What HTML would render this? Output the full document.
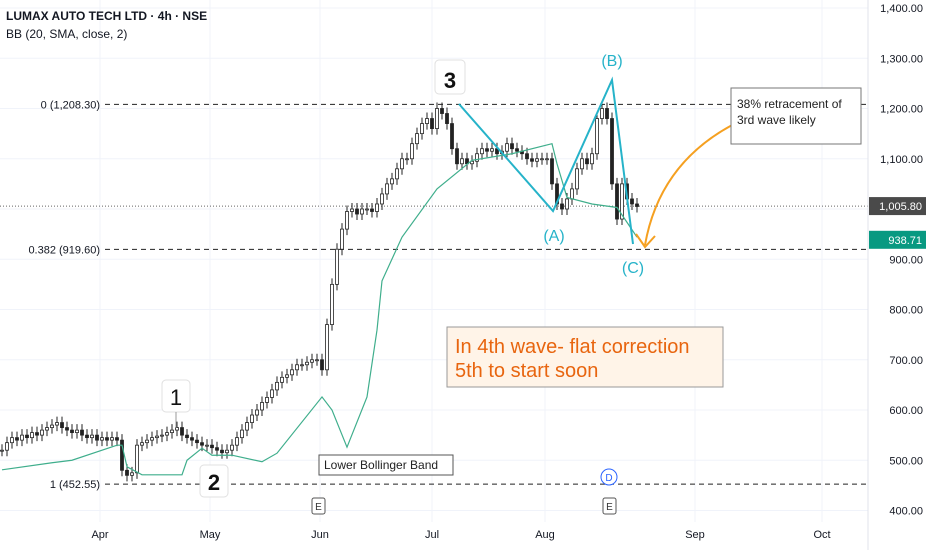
<!DOCTYPE html>
<html><head><meta charset="utf-8"><style>
body{margin:0;background:#fff;font-family:"Liberation Sans",sans-serif}
svg text{font-family:"Liberation Sans",sans-serif}
</style></head><body>
<svg id="c" width="932" height="550" viewBox="0 0 932 550" xmlns="http://www.w3.org/2000/svg">
<g id="grid"></g>
<g id="candles"></g>
<path id="bb" fill="none" stroke="#3fae8c" stroke-width="1.2"/>
<g id="axis"></g>
<g id="xaxis"></g>
<g>
 <polyline points="459,104 553,211 612,80 633,244" fill="none" stroke="#26b3c9" stroke-width="2"/>
 <text x="612" y="66" font-size="16" fill="#26b3c9" text-anchor="middle">(B)</text>
 <text x="554" y="241" font-size="16" fill="#26b3c9" text-anchor="middle">(A)</text>
 <text x="633" y="273" font-size="16" fill="#26b3c9" text-anchor="middle">(C)</text>
 <path d="M740,121 Q660,160 645,245" fill="none" stroke="#f5a020" stroke-width="2"/>
 <path d="M636,234 L645,247 L655,236" fill="none" stroke="#f5a020" stroke-width="2"/>
 <rect x="435" y="60" width="30" height="34" rx="4" fill="#fff" stroke="#e0e0e0"/>
 <text x="450" y="88" font-size="22" font-weight="bold" text-anchor="middle" fill="#111">3</text>
 <rect x="162" y="380" width="28" height="32" rx="4" fill="#fff" stroke="#e0e0e0"/>
 <text x="176" y="405" font-size="22" text-anchor="middle" fill="#111">1</text>
 <line x1="176" y1="412" x2="176" y2="428" stroke="#999"/>
 <rect x="200" y="465" width="28" height="32" rx="4" fill="#fff" stroke="#e0e0e0"/>
 <text x="214" y="490" font-size="22" font-weight="bold" text-anchor="middle" fill="#111">2</text>
 <rect x="447" y="327" width="276" height="60" fill="#fff4e8" stroke="#999"/>
 <text x="455" y="353" font-size="20" fill="#e8650f">In 4th wave- flat correction</text>
 <text x="455" y="377" font-size="20" fill="#e8650f">5th to start soon</text>
 <rect x="731" y="88" width="130" height="56" fill="#fff" stroke="#777"/>
 <text x="737" y="108" font-size="12" fill="#222">38% retracement of</text>
 <text x="737" y="124" font-size="12" fill="#222">3rd wave likely</text>
 <rect x="319" y="455" width="134" height="20" fill="#fff" stroke="#555"/>
 <text x="324" y="469" font-size="12" fill="#222">Lower Bollinger Band</text>
 <rect x="312" y="498" width="13" height="16" fill="#fff" stroke="#555" rx="2"/>
 <text x="318.5" y="510" font-size="10" text-anchor="middle" fill="#333">E</text>
 <rect x="603" y="498" width="13" height="16" fill="#fff" stroke="#555" rx="2"/>
 <text x="609.5" y="510" font-size="10" text-anchor="middle" fill="#333">E</text>
 <circle cx="609" cy="477" r="8" fill="#fff" stroke="#2962ff"/>
 <text x="609" y="481" font-size="10" text-anchor="middle" fill="#2962ff">D</text>
</g>
<text x="6" y="20" font-size="12" font-weight="bold" fill="#131722">LUMAX AUTO TECH LTD · 4h · NSE</text>
<text x="6" y="38" font-size="12" fill="#131722">BB (20, SMA, close, 2)</text>
</svg>
<script>
const closes=[520,535,545,540,550,545,555,550,560,565,570,575,565,560,555,560,550,545,550,540,545,540,545,540,
480,470,475,530,535,540,545,548,550,555,560,565,550,545,540,535,530,530,525,520,515,520,
530,545,560,575,590,600,615,625,640,655,665,670,680,690,690,695,700,700,
680,770,850,920,960,995,1000,990,1000,1000,995,1010,1030,1050,1060,1080,1100,1100,1130,1150,1170,1180,1160,1200,1190,1170,1120,1090,1100,1090,1095,1110,1120,1115,1120,1110,1115,1130,1120,1115,1110,1100,1095,1100,1100,1100,1050,1010,1000,1020,1040,1080,1100,1090,1110,1180,1200,1180,1050,980,1050,1020,1010,1005];
const bbIdx=[0,10,14,23,24,25,28,36,37,40,42,46,52,55,64,66,69,73,75,76,80,87,94,102,110,111,113,118,123,127];
const bbVal=[481,495,500,530,530,487,471,471,500,524,510,510,497,514,626,600,526,626,759,857,944,1040,1097,1110,1130,1090,1023,1010,1003,944];
const priceTicks=[1400,1300,1200,1100,1000,900,800,700,600,500,400];
const months=["Apr","May","Jun","Jul","Aug","Sep","Oct"];
const monthX=[100,210,320,432,545,695,822];
const fibLevels=[1208.30,919.60,452.55];
const fibLabels=["0 (1,208.30)","0.382 (919.60)","1 (452.55)"];
const lastPrice=1005.80, bbLast=938.71;
const NS='http://www.w3.org/2000/svg';
const y=p=>8+(1400-p)*0.5025;
const x=i=>2+i*5;
function mk(t,a,parent){const e=document.createElementNS(NS,t);for(const k in a)e.setAttribute(k,a[k]);parent.appendChild(e);return e;}
const grid=document.getElementById('grid'),axis=document.getElementById('axis'),xa=document.getElementById('xaxis'),cg=document.getElementById('candles');
priceTicks.forEach(p=>{const l=mk('line',{x1:0,x2:868,y1:y(p),y2:y(p),stroke:'#f0f3fa'},grid);


const t=mk('text',{x:923,y:y(p)+4,'font-size':11,'text-anchor':'end',fill:'#131722'},axis);t.textContent=p.toLocaleString('en-US',{minimumFractionDigits:2});

});
months.forEach((m,i)=>{const l=mk('line',{x1:monthX[i],x2:monthX[i],y1:0,y2:522,stroke:'#f0f3fa'},grid);


const t=mk('text',{x:monthX[i],y:538,'font-size':11,'text-anchor':'middle',fill:'#131722'},xa);t.textContent=m;

});
fibLevels.forEach((p,i)=>{const l=mk('line',{x1:105,x2:868,y1:y(p),y2:y(p),stroke:'#222','stroke-dasharray':'5,4'},grid);


const t=mk('text',{x:100,y:y(p)+4,'font-size':11,'text-anchor':'end',fill:'#131722'},grid);t.textContent=fibLabels[i];

});
const dl=mk('line',{x1:0,x2:868,y1:y(lastPrice),y2:y(lastPrice),stroke:'#666','stroke-dasharray':'1,2'},grid);


closes.forEach((c,i)=>{const o=i?closes[i-1]:c;const hi=Math.max(o,c),lo=Math.min(o,c);
const w=mk('line',{x1:x(i),x2:x(i),y1:y(hi)-6,y2:y(lo)+6,stroke:'#222'},cg);


const r=mk('rect',{x:x(i)-1.5,y:y(hi),width:3,height:Math.max(1,y(lo)-y(hi)),fill:c>=o?'#fff':'#222',stroke:'#222','stroke-width':0.8},cg);

});
document.getElementById('bb').setAttribute('d',bbIdx.map((k,j)=>(j?'L':'M')+x(k)+','+y(bbVal[j])).join(' '));
mk('line',{x1:868,x2:868,y1:0,y2:550,stroke:'#e0e3eb'},axis);
[[lastPrice,'#4a4a4a'],[bbLast,'#089981']].forEach(([p,col])=>{const r=mk('rect',{x:869,y:y(p)-9,width:57,height:18,fill:col},axis);


const t=mk('text',{x:922,y:y(p)+4,'font-size':11,'text-anchor':'end',fill:'#fff'},axis);t.textContent=p.toLocaleString('en-US',{minimumFractionDigits:2});

});
</script>
</body></html>
